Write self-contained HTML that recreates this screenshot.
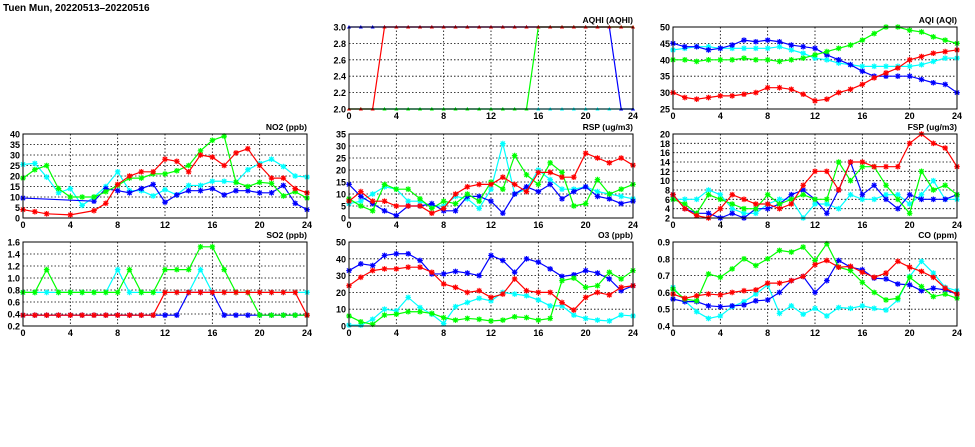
<!DOCTYPE html>
<html><head><meta charset="utf-8">
<style>
html,body{margin:0;padding:0;background:#fff;width:975px;height:447px;overflow:hidden}
svg{display:block;font-family:"Liberation Sans",sans-serif}
</style></head>
<body>
<svg id="s" width="975" height="447">
<text x="3" y="11" font-size="10" font-weight="bold">Tuen Mun, 20220513–20220516</text>
</svg>
<script>
const hours = [0,1,2,3,4,5,6,7,8,9,10,11,12,13,14,15,16,17,18,19,20,21,22,23,24];
const xTicks = [0,4,8,12,16,20,24];
const seriesColors = ["#00ffff","#0000ff","#00ff00","#ff0000"];
const seriesKeys = ["cyan","blue","green","red"];

const aqhiTicks=[2.0,2.2,2.4,2.6,2.8,3.0];
const aqhiCyan=[2,2,2,2,2,2,2,2,2,2,2,2,2,2,2,2,2,2,2,2,2,2,2,2,2];
const aqhiBlue=[3,3,3,3,3,3,3,3,3,3,3,3,3,3,3,3,3,3,3,3,3,3,3,2,2];
const aqhiGreen=[2,2,2,2,2,2,2,2,2,2,2,2,2,2,2,2,3,3,3,3,3,3,3,3,3];
const aqhiRed=[2,2,2,3,3,3,3,3,3,3,3,3,3,3,3,3,3,3,3,3,3,3,3,3,3];

const aqiTicks=[25,30,35,40,45,50];
const aqiCyan=[43,43.5,44,44,43.5,43.5,43.5,43.5,43.5,44,43,42,40.5,40,39,38.5,38,38,38,38,38,38.5,39.5,40.5,40.5];
const aqiBlue=[45,44,44,43,43.5,44.5,46,45.5,46,45.5,44.5,44,43.5,41.5,40,38.5,36.5,35,35,35,35,34,33,32.5,30];
const aqiGreen=[40,40,39.5,40,40,40,40.5,40,40,39.5,40,40.5,41.5,42.5,43.5,44.5,46,48,50,50,49,48.5,47,46,45];
const aqiRed=[30,28.5,28,28.5,29,29,29.5,30,31.5,31.5,31,29.5,27.5,28,30,31,32.5,34.5,36,37.5,40,41,42,42.5,43];

const no2Ticks=[0,5,10,15,20,25,30,35,40];
const no2Cyan=[25.5,26,19.5,12,14,6,10,15,22,13,13,10.5,13.5,11,15.5,15.5,17.5,17.5,17,23,26,28,24.5,20,19.5];
const no2Blue=[9.5,null,null,null,null,null,8,14,13,12,14,16,7.5,11,13,13,14,11,13,13,12,12,15.5,7,4];
const no2Green=[19,23,25,14,10,10,10,12.5,15.5,19,19,21,21,22.5,25,32,37,39,17,15,17,16.5,10.5,12.5,9.5];
const no2Red=[4,3,2,null,1.5,null,3.5,7,16,20,22,22,28,27,22,30,29,25,31,33,25,19,19,14,12];

const rspTicks=[0,5,10,15,20,25,30,35];
const rspCyan=[6,7,10,13,12,7,7,5,5,9,8,4,12,31,10,12,20,16,12,12,13,11,10,9,8];
const rspBlue=[14,9,6,3,1,5,5,6,3,3,9,9,7,2,10,13,11,14,8,11,13,9,8,6,7];
const rspGreen=[8,5,3,14,12,12,8,4,7,6,10,7,15,12,26,18,14,23,19,5,6,16,10,12,14];
const rspRed=[7,11,7,7,5,5,5,2,4,10,13,14,14,17,14,11,19,19,17,17,27,25,23,25,22];

const fspTicks=[2,4,6,8,10,12,14,16,18,20];
const fspCyan=[6,6,6,8,7,4,3,3,5,6,6,2,5,5,4,7,6,6,7,7,5,7,10,6,6];
const fspBlue=[7,4,3,3,2,3,2,4,4,5,7,8,6,3,8,14,7,9,6,4,7,6,6,6,7];
const fspGreen=[6,5,3,7,6,5,4,4,7,5,6,7,6,6,14,10,13,13,9,6,3,12,8,9,7];
const fspRed=[7,4,2.5,2,4,7,6,5,5,4,5,9,12,12,8,14,14,13,13,13,18,20,18,17,13];

const so2Ticks=[0.2,0.4,0.6,0.8,1.0,1.2,1.4,1.6];
const so2Cyan=[.76,.76,.76,.76,.76,.76,.76,.76,1.14,.76,.76,.76,.76,.76,.76,1.14,.76,.76,.76,.76,.76,.76,.76,.76,.76];
const so2Blue=[.38,.38,.38,.38,.38,.38,.38,.38,.38,.38,.38,.38,.38,.38,.76,.76,.76,.38,.38,.38,.38,.38,.38,.38,.38];
const so2Green=[.76,.76,1.14,.76,.76,.76,.76,.76,.76,1.14,.76,.76,1.14,1.14,1.14,1.52,1.52,1.14,.76,.76,.38,.38,.38,.38,.38];
const so2Red=[.38,.38,.38,.38,.38,.38,.38,.38,.38,.38,.38,.38,.76,.76,.76,.76,.76,.76,.76,.76,.76,.76,.76,.76,.38];

const o3Ticks=[0,10,20,30,40,50];
const o3Cyan=[0.5,0.5,4,10,9,17,11,7,1.5,11.5,14,16.5,15,20,19,18,15.5,12,12,6.5,4.5,3.5,3,6.5,6];
const o3Blue=[33,37,36,42,43,43,39,31,31,32.5,31.5,30,42,39,32,40,38,34,29.5,30.5,33,31.5,28,21,24];
const o3Green=[6,2.5,1,6.5,7,8.5,8.5,7.5,5,3.5,4.5,4,3,3.5,5.5,5,3.5,4.5,27,28.5,23,24,32,28,33];
const o3Red=[24,29,33,34,34,35,35,32,25,23,20,21,17,19,28,21,20,20,14,9.5,17,20,18.5,23,24];

const coTicks=[0.4,0.5,0.6,0.7,0.8,0.9];
const coCyan=[.63,.55,.485,.445,.46,.515,.545,.59,.645,.475,.52,.47,.505,.46,.51,.505,.52,.505,.495,.555,.695,.785,.715,.63,.61];
const coBlue=[.56,.545,.545,.52,.515,.52,.525,.55,.555,.60,.67,.695,.60,.67,.79,.75,.735,.685,.68,.65,.645,.61,.625,.615,.59];
const coGreen=[.62,.56,.55,.71,.69,.74,.80,.76,.80,.85,.84,.87,.79,.89,.75,.73,.66,.60,.555,.565,.69,.635,.575,.59,.565];
const coRed=[.59,.565,.58,.59,.585,.60,.61,.615,.655,.655,.67,.695,.765,.79,.75,.755,.72,.69,.715,.785,.75,.725,.69,.625,.59];

const NS="http://www.w3.org/2000/svg";
const svg=document.getElementById("s");
function mk(tag,attrs,parent){const e=document.createElementNS(NS,tag);for(const k in attrs)e.setAttribute(k,attrs[k]);(parent||svg).appendChild(e);return e;}

function panel(slug,title,x0,x1,y0,y1,ticks,dec,series,marker){
  const g=mk("g",{});
  
  
  const ymin=ticks[0],ymax=ticks[ticks.length-1];
  const xs=v=>x0+(v-0)/24*(x1-x0);
  const ys=v=>y1-(v-ymin)/(ymax-ymin)*(y1-y0);
  ticks.forEach((t,i)=>{
    if(i>0&&i<ticks.length-1){const l=mk("line",{x1:x0,x2:x1,y1:ys(t),y2:ys(t),stroke:"#000","stroke-width":0.8,"stroke-dasharray":"1.5,2"},g);
      
      }
    const tx=mk("text",{x:x0-3,y:ys(t)+3.5,"text-anchor":"end","font-size":"9","font-weight":"bold"},g);
    tx.textContent=t.toFixed(dec);
    
    
  });
  xTicks.forEach((t,i)=>{
    if(i>0&&i<xTicks.length-1){const l=mk("line",{x1:xs(t),x2:xs(t),y1:y0,y2:y1,stroke:"#000","stroke-width":0.8,"stroke-dasharray":"1.5,2"},g);
      
      }
    const tx=mk("text",{x:xs(t),y:y1+10,"text-anchor":"middle","font-size":"9","font-weight":"bold"},g);
    tx.textContent=t;
    
    
  });
  const tt=mk("text",{x:x1,y:y0-4,"text-anchor":"end","font-size":"8.5","font-weight":"bold"},g);
  tt.textContent=title;
  
  
  series.forEach((vals,si)=>{
    const c=seriesColors[si];
    const sg=mk("g",{},g);
    
    
    const pts=[];
    vals.forEach((v,i)=>{if(v!==null)pts.push([xs(hours[i]),ys(v)]);});
    const pl=mk("polyline",{points:pts.map(p=>p.join(",")).join(" "),fill:"none",stroke:c,"stroke-width":1.2},sg);
    
    
    pts.forEach(p=>{
      let m;
      if(marker==="tri"){
        m=mk("path",{d:`M${p[0]-2},${p[1]+1.5}L${p[0]+2},${p[1]+1.5}L${p[0]},${p[1]-2}Z`,fill:c},sg);
      } else {
        const r=2.8;
        m=mk("path",{d:`M${p[0]-r},${p[1]}H${p[0]+r}M${p[0]},${p[1]-r}V${p[1]+r}M${p[0]-r*.75},${p[1]-r*.75}L${p[0]+r*.75},${p[1]+r*.75}M${p[0]-r*.75},${p[1]+r*.75}L${p[0]+r*.75},${p[1]-r*.75}`,stroke:c,"stroke-width":1.2},sg);
      }
      
      
    });
  });
  const fr=mk("rect",{x:x0,y:y0,width:x1-x0,height:y1-y0,fill:"none",stroke:"#000","stroke-width":1},g);
  
  
}
panel("aqhi","AQHI (AQHI)",349,633,27,109,aqhiTicks,1,[aqhiCyan,aqhiBlue,aqhiGreen,aqhiRed],"tri");
panel("aqi","AQI (AQI)",673,957,27,109,aqiTicks,0,[aqiCyan,aqiBlue,aqiGreen,aqiRed]);
panel("no2","NO2 (ppb)",23,307,134,218,no2Ticks,0,[no2Cyan,no2Blue,no2Green,no2Red]);
panel("rsp","RSP (ug/m3)",349,633,134,218,rspTicks,0,[rspCyan,rspBlue,rspGreen,rspRed]);
panel("fsp","FSP (ug/m3)",673,957,134,218,fspTicks,0,[fspCyan,fspBlue,fspGreen,fspRed]);
panel("so2","SO2 (ppb)",23,307,242,326,so2Ticks,1,[so2Cyan,so2Blue,so2Green,so2Red]);
panel("o3","O3 (ppb)",349,633,242,326,o3Ticks,0,[o3Cyan,o3Blue,o3Green,o3Red]);
panel("co","CO (ppm)",673,957,242,326,coTicks,1,[coCyan,coBlue,coGreen,coRed]);
</script>
</body></html>
